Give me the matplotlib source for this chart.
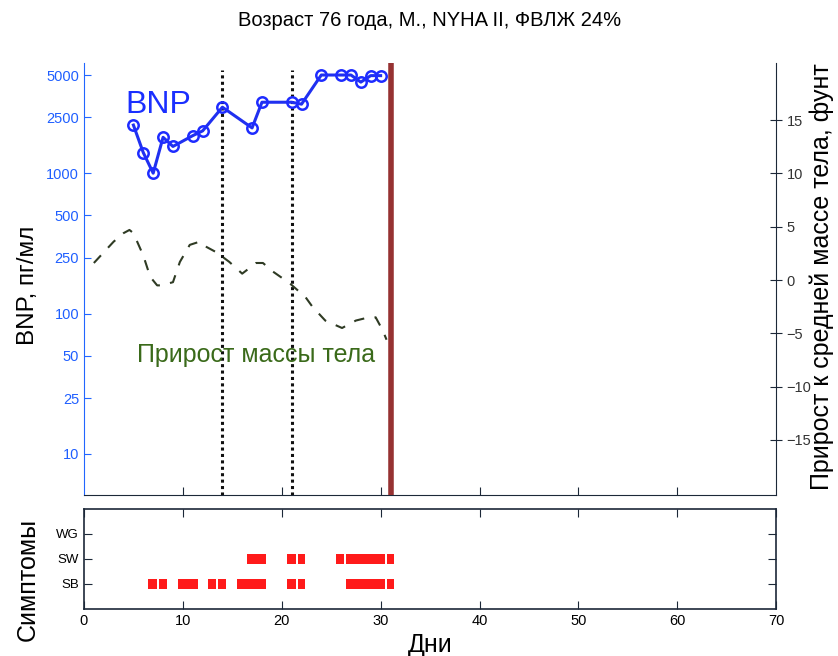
import numpy as np
import matplotlib
matplotlib.use("Agg")
import matplotlib.pyplot as plt

plt.rcParams['font.family'] = ['Liberation Sans', 'DejaVu Sans']

# BNP measurements (day, pg/ml)
bnp_days = [5, 6, 7, 8, 9, 11, 12, 14, 17, 18, 21, 22, 24, 26, 27, 28, 29, 30]
bnp_vals = [2200, 1400, 1000, 1800, 1550, 1850, 2000, 2950, 2100, 3200, 3200, 3100,
            5000, 5000, 5000, 4450, 4950, 4950]

# weight gain relative to mean weight (lb)
wg_days = [1, 2, 3, 4, 4.6, 5, 6, 6.7, 7.4, 7.9, 9, 9.7, 10.7, 11.7, 12.4, 13.4,
           14.7, 16, 17.4, 18.1, 19.1, 20.8, 22.4, 23.1, 24.4, 26.1, 27.5, 28.8,
           29.5, 30.2, 30.6]
wg_vals = [1.6, 2.6, 3.6, 4.4, 4.7, 4.4, 2.3, 0.3, -0.5, -0.5, -0.2, 1.7, 3.3, 3.6,
           3.1, 2.6, 1.7, 0.6, 1.6, 1.6, 0.8, -0.3, -1.6, -2.5, -3.8, -4.5, -3.8,
           -3.5, -3.5, -4.7, -5.6]

visit_days = [14, 21]
event_day = 31

# symptom intervals (start, end) in days
symptoms = ['SB', 'SW', 'WG']
sb_int = [(6.5, 7.4), (7.6, 8.4), (9.5, 11.5), (12.5, 13.4), (13.6, 14.4), (15.5, 18.4),
          (20.5, 21.4), (21.6, 22.4), (26.5, 30.4), (30.6, 31.4)]
sw_int = [(16.5, 18.4), (20.5, 21.4), (21.6, 22.4), (25.5, 26.3), (26.5, 30.4), (30.6, 31.4)]
wg_int = []

bnp_ticks = [10, 25, 50, 100, 250, 500, 1000, 2500, 5000]
wt_ticks = [-15, -10, -5, 0, 5, 10, 15]

navy = '#1c2838'
blue_ax = '#2266ff'

fig = plt.figure(figsize=(8.38, 6.56), dpi=100)
ax = fig.add_axes([0.1002, 0.2454, 0.826, 0.6585])
ax2 = ax.twinx()
axs = fig.add_axes([0.1002, 0.0716, 0.826, 0.1532])

# top panel
ax.set_yscale('log')
ax.set_xlim(0, 70)
ax.set_ylim(5.1, 6085)
ax.plot(bnp_days, bnp_vals, color='#2030f0', lw=2.2, marker='o', markersize=7.5,
        markerfacecolor='none', markeredgecolor='#1e2cff', markeredgewidth=1.8, zorder=5)
for d in visit_days:
    ax.axvline(d, ymax=0.985, color='#111111', lw=2.2, linestyle=(0, (1, 1.1)), zorder=3)
ax.axvline(event_day, color='#963232', lw=4, zorder=6)
ax.set_yticks(bnp_ticks)
ax.set_yticklabels([str(t) for t in bnp_ticks])
ax.minorticks_off()
ax.tick_params(axis='y', direction='in', length=5, colors=blue_ax, labelsize=10.5,
               labelcolor='#1f5fff')
ax.set_xticks(range(10, 70, 10))
ax.tick_params(axis='x', direction='in', length=6, color=navy, labelbottom=False)
ax.spines['top'].set_visible(False)
ax.spines['left'].set_color(blue_ax)
ax.spines['bottom'].set_color(navy)
ax.spines['right'].set_visible(False)
ax.text(4.2, 2680, 'BNP', color='#1a2fff', fontsize=23)

ax2.plot(wg_days, wg_vals, color='#2f3b24', lw=1.5, linestyle=(0, (5, 5)))
ax2.set_ylim(-20.17, 20.36)
ax2.set_yticks(wt_ticks)
ax2.set_yticklabels([str(t).replace('-', '\u2212') for t in wt_ticks])
ax2.tick_params(axis='y', direction='inout', length=8, color=navy, labelsize=10.5,
                labelcolor='#333333')
ax2.spines['top'].set_visible(False)
ax2.spines['left'].set_visible(False)
ax2.spines['bottom'].set_visible(False)
ax2.spines['right'].set_color(navy)
ax2.text(5.4, -7.0, 'Прирост массы тела', color='#3a6a1a', fontsize=18, va='center')

# symptoms panel
for i, ints in enumerate([sb_int, sw_int, wg_int]):
    bars = [(s, e - s) for s, e in ints]
    if bars:
        axs.broken_barh(bars, (i + 1 - 0.2, 0.4), facecolors='#ff1a1a')
axs.set_xlim(0, 70)
axs.set_ylim(0, 4)
axs.set_yticks([1, 2, 3])
axs.set_yticklabels(symptoms)
axs.set_xticks(range(0, 80, 10))
axs.tick_params(axis='both', direction='in', length=6, color=navy, labelsize=10.5,
                top=True, right=True)
axs.tick_params(axis='y', labelsize=9.5)
for s in axs.spines.values():
    s.set_color(navy)
    s.set_linewidth(1.2)

fig.text(430 / 838, 0.968, 'Возраст 76 года, М., NYHA II, ФВЛЖ 24%', ha='center',
         va='center', fontsize=14.5)
fig.text(28 / 838, 0.5655, 'BNP, пг/мл', rotation=90, ha='center', va='center', fontsize=17.5)
fig.text(822 / 838, 0.579, 'Прирост к средней массе тела, фунт', rotation=90,
         ha='center', va='center', fontsize=18)
fig.text(28 / 838, 0.1174, 'Симптомы', rotation=90, ha='center', va='center', fontsize=18)
fig.text(430 / 838, 0.0168, 'Дни', ha='center', va='center', fontsize=18)

fig.savefig('out.png', dpi=100)
